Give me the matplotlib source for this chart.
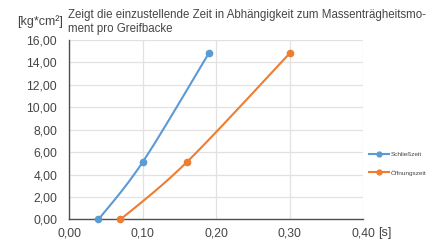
import numpy as np
import matplotlib
matplotlib.use("Agg")
import matplotlib.pyplot as plt
from matplotlib.lines import Line2D

plt.rcParams["font.family"] = ["Liberation Sans", "DejaVu Sans"]

# data
schliess_t = [0.04, 0.10, 0.19]
schliess_j = [0.0, 5.1, 14.8]
oeffnung_t = [0.07, 0.16, 0.30]
oeffnung_j = [0.0, 5.1, 14.8]

x_ticks = [0.0, 0.1, 0.2, 0.3, 0.4]
y_ticks = [0, 2, 4, 6, 8, 10, 12, 14, 16]

BLUE = "#5b9bd5"
ORANGE = "#ed7d31"
TXT = "#454545"


def smooth(xs, ys, n=30):
    # Excel-like smoothed line (cardinal spline through the points)
    xs, ys = np.asarray(xs, float), np.asarray(ys, float)
    px = np.concatenate([[xs[0]], xs, [xs[-1]]])
    py = np.concatenate([[ys[0]], ys, [ys[-1]]])
    out_x, out_y = [], []
    for i in range(1, len(px) - 2):
        p0, p1, p2, p3 = (np.array([px[j], py[j]]) for j in (i - 1, i, i + 1, i + 2))
        c1 = p1 + (p2 - p0) / 6
        c2 = p2 - (p3 - p1) / 6
        t = np.linspace(0, 1, n)[:, None]
        seg = ((1 - t) ** 3) * p1 + 3 * ((1 - t) ** 2) * t * c1 + 3 * (1 - t) * t ** 2 * c2 + t ** 3 * p2
        out_x += list(seg[:, 0]); out_y += list(seg[:, 1])
    return out_x, out_y


fig = plt.figure(figsize=(4.43, 2.42), dpi=100)
ax = fig.add_axes([0.1558, 0.093, 0.664, 0.742])

for xs, ys, col in [(schliess_t, schliess_j, BLUE), (oeffnung_t, oeffnung_j, ORANGE)]:
    sx, sy = smooth(xs, ys)
    ax.plot(sx, sy, color=col, linewidth=1.5, zorder=3)
    ax.plot(xs, ys, "o", color=col, markersize=4.5, zorder=4, clip_on=False)

ax.set_xlim(0, 0.4)
ax.set_ylim(0, 16)
ax.set_xticks(x_ticks)
ax.set_yticks(y_ticks)
ax.set_xticklabels([f"{v:.2f}".replace(".", ",") for v in x_ticks])
ax.set_yticklabels([f"{v:.2f}".replace(".", ",") for v in y_ticks])
ax.tick_params(length=0, labelsize=8.7, colors=TXT)
ax.tick_params(axis="y", pad=8.5)
ax.tick_params(axis="x", pad=5.5)
ax.grid(True, color="#e2e2e2", linewidth=0.9)
ax.set_axisbelow(True)
for s in ("top", "right"):
    ax.spines[s].set_visible(False)
for s in ("left", "bottom"):
    ax.spines[s].set_color("#505050")
    ax.spines[s].set_linewidth(1.0)

fig.text(0.142, 0.909, "[kg*cm²]", fontsize=9, color=TXT, ha="right", va="center")
fig.text(0.153, 0.909, "Zeigt die einzustellende Zeit in Abhängigkeit zum Massenträgheitsmo-\nment pro Greifbacke",
         fontsize=8.3, color=TXT, ha="left", va="center", linespacing=1.3)
fig.text(0.869, 0.037, "[s]", fontsize=9, color=TXT, ha="center", va="center")

handles = [
    Line2D([0], [0], color=BLUE, linewidth=1.5, marker="o", markersize=3.5, label="Schließzeit"),
    Line2D([0], [0], color=ORANGE, linewidth=1.5, marker="o", markersize=3.5, label="Öffnungszeit"),
]
fig.legend(handles=handles, loc="center left", bbox_to_anchor=(0.833, 0.324),
           frameon=False, fontsize=4.6, labelcolor=TXT, handlelength=3.1,
           handletextpad=0.3, labelspacing=2.0, borderaxespad=0, borderpad=0)

fig.savefig("out.png", dpi=100)
